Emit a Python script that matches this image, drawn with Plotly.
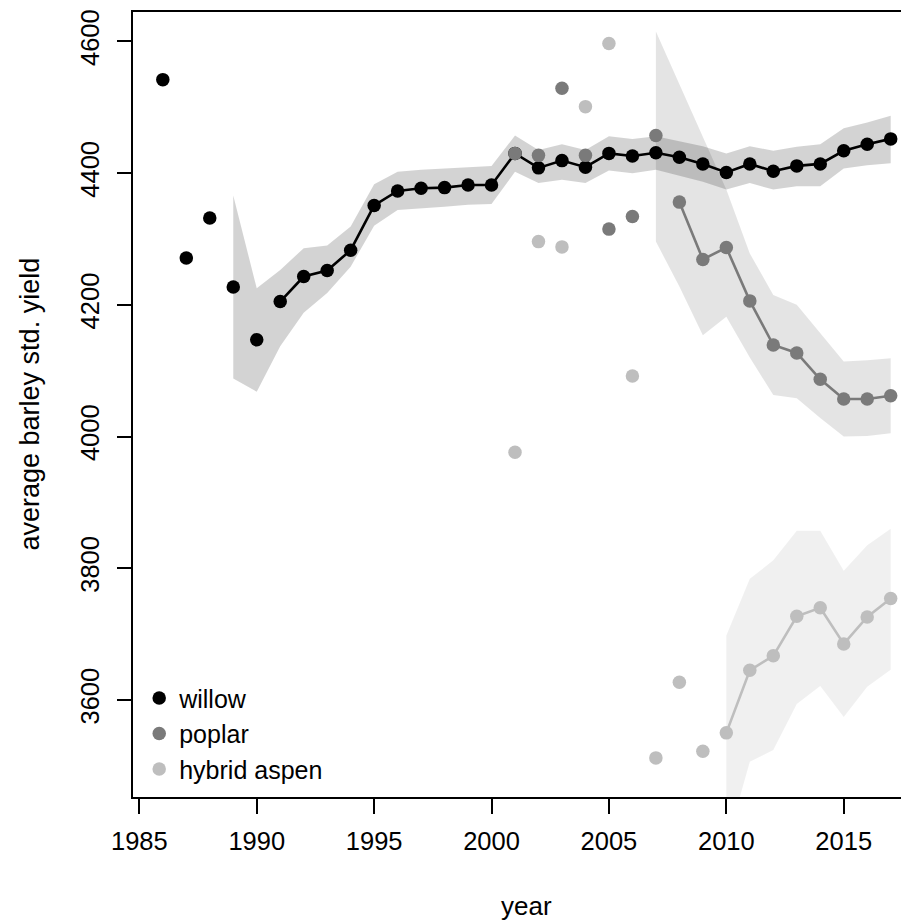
import plotly.graph_objects as go

# ---------------- data ----------------
willow_pt_years = [1986, 1987, 1988, 1989, 1990]
willow_pt_vals = [4542, 4271, 4332, 4227, 4147]
willow_line_years = list(range(1991, 2018))
willow_line_vals = [4205, 4243, 4252, 4283, 4351, 4373, 4377, 4378, 4382, 4382,
                    4430, 4408, 4419, 4409, 4430, 4426, 4431, 4424, 4414, 4401,
                    4414, 4403, 4411, 4414, 4434, 4444, 4452]
willow_band_years = list(range(1989, 2018))
willow_band_upper = [4366, 4225, 4253, 4286, 4290, 4319, 4383, 4402, 4405, 4407,
                     4410, 4411, 4457, 4435, 4444, 4435, 4456, 4452, 4456, 4448,
                     4441, 4430, 4441, 4434, 4440, 4444, 4468, 4477, 4487]
willow_band_lower = [4088, 4068, 4137, 4188, 4218, 4258, 4320, 4344, 4347, 4349,
                     4352, 4353, 4402, 4385, 4390, 4385, 4404, 4400, 4405, 4396,
                     4387, 4375, 4385, 4375, 4380, 4380, 4407, 4412, 4415]

poplar_pt_years = [2001, 2002, 2003, 2004, 2005, 2006, 2007]
poplar_pt_vals = [4430, 4427, 4529, 4427, 4315, 4334, 4457]
poplar_line_years = list(range(2008, 2018))
poplar_line_vals = [4356, 4269, 4287, 4206, 4139, 4127, 4087, 4057, 4057, 4062]
poplar_band_years = list(range(2007, 2018))
poplar_band_upper = [4615, 4535, 4455, 4375, 4278, 4215, 4200, 4157, 4114, 4116, 4119]
poplar_band_lower = [4296, 4228, 4154, 4182, 4120, 4063, 4058, 4028, 4000, 4001, 4005]

aspen_pt_years = [2001, 2002, 2003, 2004, 2005, 2006, 2007, 2008, 2009]
aspen_pt_vals = [3976, 4296, 4288, 4501, 4597, 4092, 3512, 3627, 3522]
aspen_line_years = list(range(2010, 2018))
aspen_line_vals = [3550, 3645, 3667, 3727, 3740, 3685, 3726, 3754]
aspen_band_years = list(range(2010, 2018))
aspen_band_upper = [3698, 3784, 3812, 3857, 3857, 3796, 3835, 3860]
aspen_band_lower = [3380, 3506, 3524, 3594, 3621, 3574, 3620, 3646]

x_ticks = [1985, 1990, 1995, 2000, 2005, 2010, 2015]
y_ticks = [3600, 3800, 4000, 4200, 4400, 4600]

series = [
    ("willow", "#000000", "rgba(0,0,0,0.172)",
     willow_pt_years, willow_pt_vals, willow_line_years, willow_line_vals,
     willow_band_years, willow_band_upper, willow_band_lower),
    ("poplar", "#7A7A7A", "rgba(0,0,0,0.105)",
     poplar_pt_years, poplar_pt_vals, poplar_line_years, poplar_line_vals,
     poplar_band_years, poplar_band_upper, poplar_band_lower),
    ("hybrid aspen", "#BEBEBE", "rgba(0,0,0,0.06)",
     aspen_pt_years, aspen_pt_vals, aspen_line_years, aspen_line_vals,
     aspen_band_years, aspen_band_upper, aspen_band_lower),
]

FONT = "Liberation Sans, Arial, sans-serif"
MS = 13.5

fig = go.Figure()

# bands first
for name, col, bcol, py, pv, ly, lv, by, bu, bl in series:
    fig.add_trace(go.Scatter(
        x=list(by) + list(by)[::-1], y=list(bu) + list(bl)[::-1],
        fill="toself", fillcolor=bcol, line=dict(width=0), mode="lines",
        hoverinfo="skip", showlegend=False))

for name, col, bcol, py, pv, ly, lv, by, bu, bl in series:
    fig.add_trace(go.Scatter(
        x=ly, y=lv, mode="lines+markers", line=dict(color=col, width=2.6),
        marker=dict(color=col, size=MS, line=dict(width=0)), showlegend=False))
    fig.add_trace(go.Scatter(
        x=py, y=pv, mode="markers", name=name,
        marker=dict(color=col, size=MS, line=dict(width=0)), showlegend=True))

# page body has an 8px default margin, so the figure is sized 901x916
fig.update_layout(
    width=901, height=916,
    margin=dict(l=125, r=0, t=4, b=127, autoexpand=False),
    paper_bgcolor="white", plot_bgcolor="white",
    font=dict(family=FONT, size=25, color="black"),
    showlegend=True,
    legend=dict(x=0.008, y=0.006, xanchor="left", yanchor="bottom",
                xref="paper", yref="paper",
                font=dict(size=25, family=FONT), bgcolor="rgba(0,0,0,0)",
                itemsizing="trace", tracegroupgap=0),
    xaxis=dict(range=[1984.73, 2017.78], tickmode="array", tickvals=x_ticks,
               ticktext=[str(v) for v in x_ticks], automargin=False,
               showgrid=False, zeroline=False, showline=True, linecolor="black",
               linewidth=1.6, mirror=True, ticks="outside", ticklen=15,
               tickwidth=1.6, tickcolor="black", ticklabelstandoff=6,
               tickfont=dict(size=25.5, family=FONT)),
    yaxis=dict(range=[3452.6, 4644.7], tickmode="array", tickvals=y_ticks,
               ticktext=[str(v) for v in y_ticks], tickangle=-90, automargin=False,
               showgrid=False, zeroline=False, showline=True, linecolor="black",
               linewidth=1.6, ticks="outside", ticklen=14, tickwidth=1.6,
               tickcolor="black", ticklabelstandoff=8,
               tickfont=dict(size=25.5, family=FONT)),
    annotations=[
        dict(text="year", xref="x", x=2001.5, yref="paper", y=0,
             yanchor="middle", xanchor="center", yshift=-109, showarrow=False,
             font=dict(size=26, family=FONT)),
        dict(text="average barley std. yield", xref="paper", x=0, yref="paper",
             y=0.5, xanchor="center", yanchor="middle", xshift=-104,
             textangle=-90, showarrow=False, font=dict(size=27, family=FONT)),
    ],
)

fig.write_html("out.html")
